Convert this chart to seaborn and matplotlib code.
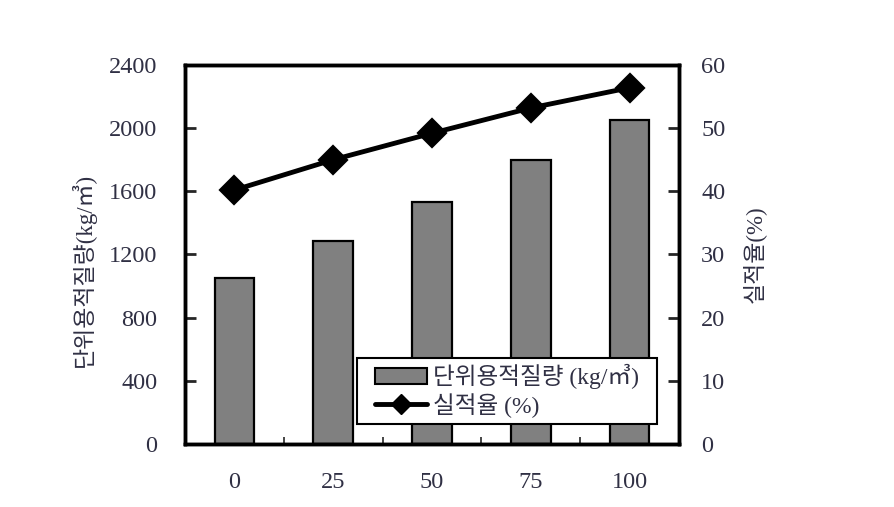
import matplotlib
matplotlib.use("Agg")
import matplotlib.pyplot as plt
import seaborn as sns
import pandas as pd
from matplotlib.patches import Patch, Rectangle
from matplotlib.lines import Line2D

categories = ["0", "25", "50", "75", "100"]
unit_weight = [1050, 1285, 1530, 1800, 2050]
solid_ratio = [40.2, 45.0, 49.2, 53.2, 56.4]
left_ticks = [0, 400, 800, 1200, 1600, 2000, 2400]
right_ticks = [0, 10, 20, 30, 40, 50, 60]

sns.set_style("white")
plt.rcParams['font.family'] = ['Liberation Serif', 'Noto Sans CJK KR', 'DejaVu Sans']
txt_color = '#303044'
num_size = 17.5

df = pd.DataFrame({"cat": categories, "w": unit_weight, "r": solid_ratio})

fig = plt.figure(figsize=(8.94, 5.07), dpi=100)
ax = fig.add_axes([0.2069, 0.1243, 0.5526, 0.7475])

sns.barplot(data=df, x="cat", y="w", ax=ax, color="#808080", edgecolor="black",
            linewidth=1.6, width=0.4, saturation=1)
ax.set_ylim(0, 2400)
ax.set_xlim(-0.5, 4.5)
ax.set_yticks(left_ticks)
ax.set_xticks(range(len(categories)))
ax.set_xticklabels(categories)
ax.set_xticks([0.5, 1.5, 2.5, 3.5], minor=True)
ax.tick_params(axis='x', which='major', length=0, pad=20, labelsize=num_size, labelcolor=txt_color)
ax.tick_params(axis='x', which='minor', direction='in', length=5, width=1.2, bottom=True)
ax.tick_params(axis='y', direction='in', length=8, width=2, left=True, labelsize=num_size,
               labelcolor=txt_color, pad=20)
ax.set_xlabel("")
ax.set_ylabel("단위용적질량(kg/㎥)", fontsize=16.5, color=txt_color, labelpad=8)
ax.yaxis.set_label_coords(-0.18, 0.46)
for s in ax.spines.values():
    s.set_linewidth(2.5)
    s.set_color("black")

ax2 = ax.twinx()
sns.pointplot(data=df, x="cat", y="r", ax=ax2, color="black", markers="D",
              linestyles="-", markersize=13, linewidth=3.5)
ax2.set_ylim(0, 60)
ax2.set_xlim(-0.5, 4.5)
ax2.set_yticks(right_ticks)
ax2.tick_params(axis='y', direction='in', length=8, width=2, right=True, labelsize=num_size,
                labelcolor=txt_color, pad=16)
ax2.set_ylabel("실적율(%)", fontsize=16.5, color=txt_color, labelpad=12, rotation=90)
ax2.set_xlabel("")
for s in ax2.spines.values():
    s.set_linewidth(2.5)
    s.set_color("black")

frame = Rectangle((0.348, 0.053), 0.607, 0.174, transform=ax2.transAxes,
                  facecolor="white", edgecolor="black", linewidth=1.5, zorder=5)
ax2.add_patch(frame)

handles = [Patch(facecolor="#808080", edgecolor="black", linewidth=1.5),
           Line2D([], [], color="black", lw=3.5, marker="D", markersize=10)]
labels = ["단위용적질량 (kg/㎥)", "실적율 (%)"]
leg = ax2.legend(handles, labels, loc="center left", bbox_to_anchor=(0.385, 0.14),
                 fontsize=17, frameon=False, borderaxespad=0, borderpad=0,
                 handlelength=2.2, handletextpad=0.25, labelspacing=0.15)
leg.set_zorder(6)
for t in leg.get_texts():
    t.set_color(txt_color)

fig.savefig("out.png", dpi=100)
